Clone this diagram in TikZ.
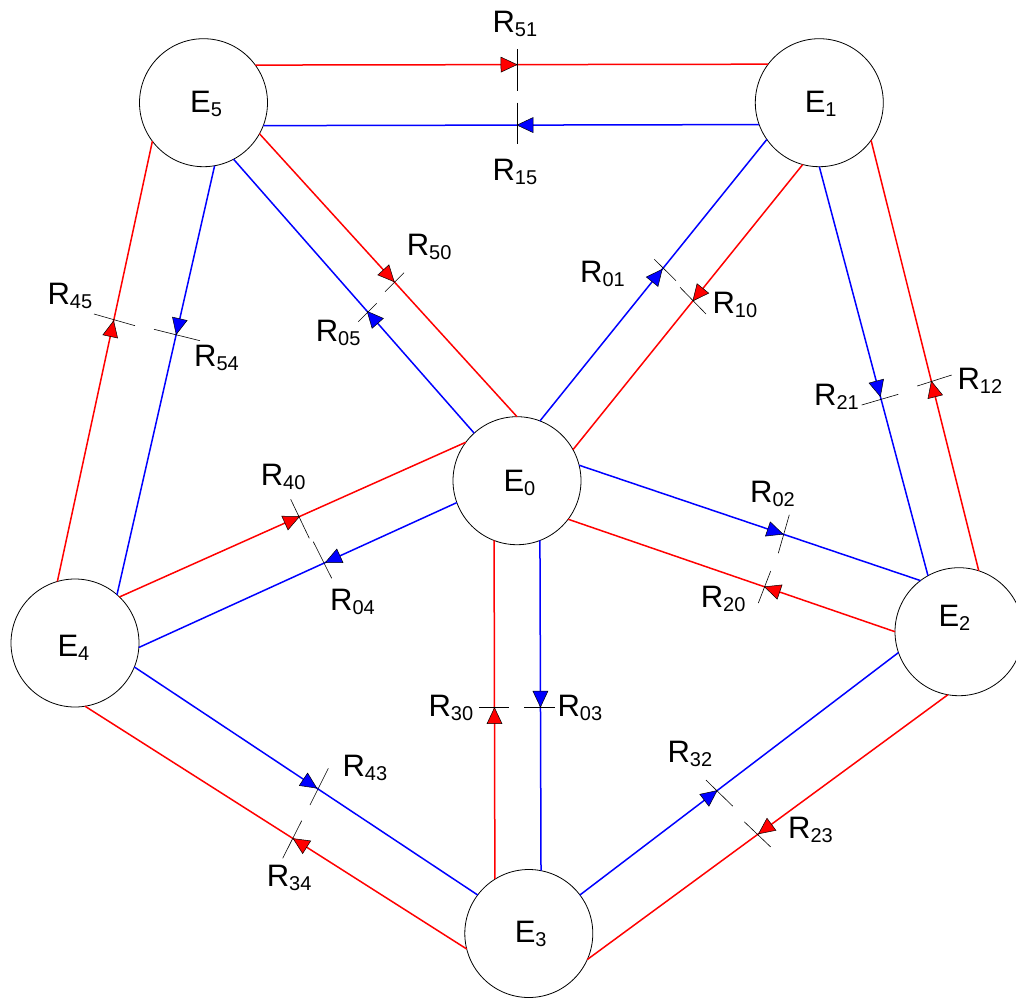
\documentclass[tikz,border=0pt]{standalone}
\usepackage{fontspec}
\setmainfont{Liberation Sans}
\usetikzlibrary{calc}
\newcommand\lbl[2]{#1\raisebox{-4pt}{\fontsize{20}{20}\selectfont #2}}
\tikzset{
  stn/.style={circle, draw=black, line width=0.8pt, minimum size=128pt, inner sep=0pt, outer sep=0pt},
  flow/.style={line width=1.5pt},
  cutl/.style={draw=black, line width=0.6pt},
  txt/.style={anchor=base west, inner sep=0pt, outer sep=0pt, font=\fontsize{31}{31}\selectfont},
  arr/.pic={\filldraw[fill=#1, draw=black, line width=0.5pt, line join=miter] (0,0) -- (-16pt,7.5pt) -- (-16pt,-7.5pt) -- cycle;}
}
\newcommand\conn[4]{\draw[flow,#1] (#2) -- (#3);
  \path ($(#2)!(#4)!(#3)$) -- (#3) pic[pos=0, sloped, allow upside down]{arr=#1};}
\begin{document}
\begin{tikzpicture}[x=1pt,y=-1pt]
\useasboundingbox (0,0) rectangle (1016,998);
% stations
\node[stn] (E5) at (203.5,102.7) {};
\node[stn] (E1) at (819.3,102.7) {};
\node[stn] (E0) at (517,480.7) {};
\node[stn] (E4) at (75,643) {};
\node[stn] (E2) at (959,631.7) {};
\node[stn] (E3) at (528.8,933.5) {};
\node[txt] (tE5) at (190.2,112.7) {\lbl{E}{5}};
\node[txt] (tE1) at (804.8,112.7) {\lbl{E}{1}};
\node[txt] (tE0) at (503.5,491) {\lbl{E}{0}};
\node[txt] (tE4) at (57.5,656) {\lbl{E}{4}};
\node[txt] (tE2) at (938.5,626) {\lbl{E}{2}};
\node[txt] (tE3) at (514.8,942.7) {\lbl{E}{3}};
% connectors (source -> target)
\conn{red}{E5.36.1}{E1.143.9}{517,65}
\conn{blue}{E1.200.9}{E5.339.1}{517,125.5}
\conn{red}{E5.331.6}{E0.90}{395,281}
\conn{blue}{E0.132.6}{E5.298.3}{366.7,311.7}
\conn{blue}{E0.69.6}{E1.215.8}{664,270.7}
\conn{red}{E1.255.8}{E0.29.5}{691.7,300}
\conn{blue}{E1.270}{E2.119.8}{880,396.7}
\conn{red}{E2.72}{E1.324.4}{932.3,381}
\conn{blue}{E0.14.1}{E2.127.6}{783.3,533.3}
\conn{red}{E2.180.5}{E0.323.7}{765,585.3}
\conn{blue}{E0.291.1}{E3.79.9}{540,707.1}
\conn{red}{E3.122.6}{E0.249.2}{494.3,707.7}
\conn{blue}{E3.37.3}{E2.199.8}{717.3,790.8}
\conn{red}{E2.260.1}{E3.336}{758.3,833.5}
\conn{red}{E4.46.7}{E0.143.3}{299.3,516}
\conn{blue}{E0.200.5}{E4.356.7}{325,561.7}
\conn{blue}{E4.338}{E3.143}{316.7,788.3}
\conn{red}{E3.194.3}{E4.279.6}{292.7,839.3}
\conn{red}{E4.106.6}{E5.217.5}{113.3,320.7}
\conn{blue}{E5.280.7}{E4.49}{175.7,334.3}
% cut marks
\draw[cutl] (517,49.3) -- (517,91) (517,102.7) -- (517,144.3);
\draw[cutl] (404,272.7) -- (385,291.7) (376.7,303.3) -- (358.3,321.7);
\draw[cutl] (654.3,259.3) -- (676,280.7) (680,287.3) -- (706,314);
\draw[cutl] (861.7,405) -- (898.3,394.3) (917.3,386) -- (951.7,375);
\draw[cutl] (789.3,514.8) -- (778.3,553.2) (770.7,571) -- (758.3,603.1);
\draw[cutl] (479,707.4) -- (509.3,707.4) (524.3,707.4) -- (555,707.4);
\draw[cutl] (706,780.1) -- (732.7,806.1) (744.3,821.8) -- (770.7,847);
\draw[cutl] (290.7,499.3) -- (309.3,538.3) (313.3,541.7) -- (331.7,578.3);
\draw[cutl] (328.3,768.3) -- (310,805) (301.7,820.7) -- (282.7,858.3);
\draw[cutl] (94,314) -- (135,325.7) (154,329.3) -- (200,340.7);
% labels
\node[txt] (r51) at (492.5,33) {\lbl{R}{51}};
\node[txt] (r15) at (492.5,180) {\lbl{R}{15}};
\node[txt] (r50) at (406.8,255) {\lbl{R}{50}};
\node[txt] (r05) at (315.8,341.7) {\lbl{R}{05}};
\node[txt] (r01) at (580.2,282.7) {\lbl{R}{01}};
\node[txt] (r10) at (712.5,313.3) {\lbl{R}{10}};
\node[txt] (r21) at (814.2,405) {\lbl{R}{21}};
\node[txt] (r12) at (957.5,389.3) {\lbl{R}{12}};
\node[txt] (r02) at (750.2,502.3) {\lbl{R}{02}};
\node[txt] (r20) at (700.8,607.4) {\lbl{R}{20}};
\node[txt] (r03) at (557.5,716) {\lbl{R}{03}};
\node[txt] (r30) at (428.5,716.7) {\lbl{R}{30}};
\node[txt] (r32) at (667.5,762.3) {\lbl{R}{32}};
\node[txt] (r23) at (788.2,838.9) {\lbl{R}{23}};
\node[txt] (r40) at (260.8,485) {\lbl{R}{40}};
\node[txt] (r04) at (330.2,610.7) {\lbl{R}{04}};
\node[txt] (r43) at (342.5,776.7) {\lbl{R}{43}};
\node[txt] (r34) at (266.8,886) {\lbl{R}{34}};
\node[txt] (r45) at (47.5,304) {\lbl{R}{45}};
\node[txt] (r54) at (194.2,366.7) {\lbl{R}{54}};
\end{tikzpicture}
\end{document}
